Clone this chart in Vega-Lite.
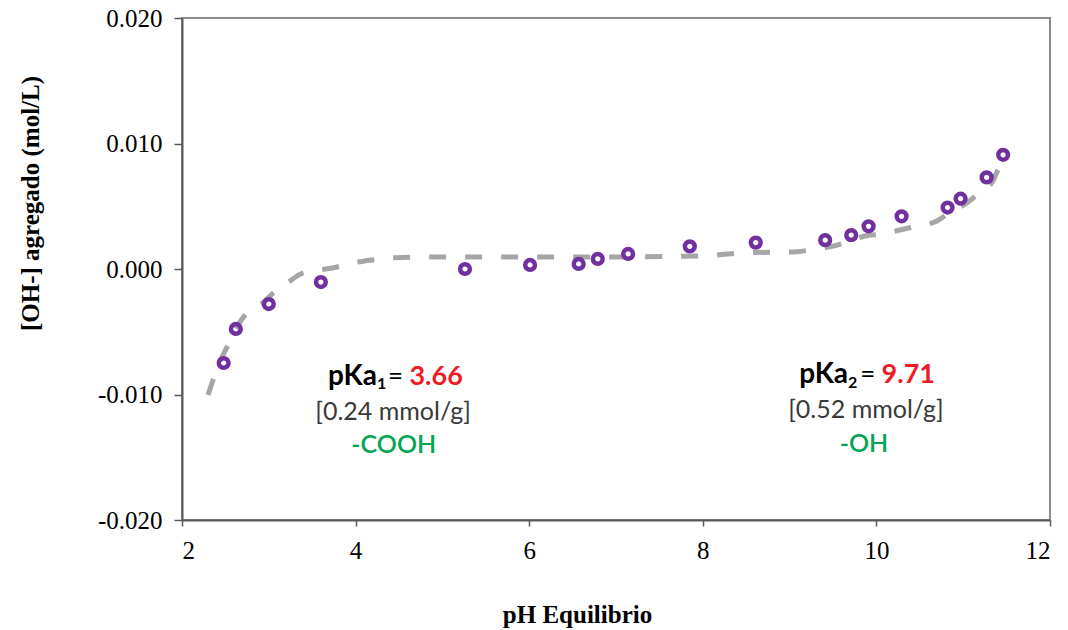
{
  "$schema": "https://vega.github.io/schema/vega-lite/v6.json",
  "width": 868,
  "height": 502,
  "autosize": {"type": "none"},
  "padding": {"left": 182, "top": 18, "right": 18, "bottom": 110},
  "background": "white",
  "config": {
    "view": {"stroke": "#8c8c8c", "strokeWidth": 2},
    "axis": {
      "labelFont": "Liberation Serif",
      "labelFontSize": 25,
      "labelColor": "#000000",
      "titleFont": "Liberation Serif",
      "titleFontSize": 25,
      "titleFontWeight": "bold",
      "titleColor": "#000000",
      "domainColor": "#595959",
      "domainWidth": 2,
      "tickColor": "#595959",
      "tickWidth": 1.5,
      "grid": false
    }
  },
  "datasets": {
    "curve": [
      {"pH": 2.300, "oh": -0.01004},
      {"pH": 2.357, "oh": -0.00885},
      {"pH": 2.461, "oh": -0.00701},
      {"pH": 2.518, "oh": -0.00622},
      {"pH": 2.645, "oh": -0.00446},
      {"pH": 2.726, "oh": -0.00367},
      {"pH": 2.956, "oh": -0.00255},
      {"pH": 3.037, "oh": -0.00199},
      {"pH": 3.210, "oh": -0.00112},
      {"pH": 3.394, "oh": -0.00032},
      {"pH": 3.590, "oh": -0.00008},
      {"pH": 3.786, "oh": 0.00016},
      {"pH": 3.970, "oh": 0.00048},
      {"pH": 4.189, "oh": 0.00072},
      {"pH": 4.396, "oh": 0.00088},
      {"pH": 4.823, "oh": 0.00096},
      {"pH": 5.660, "oh": 0.00096},
      {"pH": 6.820, "oh": 0.00096},
      {"pH": 7.970, "oh": 0.00104},
      {"pH": 8.463, "oh": 0.00128},
      {"pH": 8.889, "oh": 0.00135},
      {"pH": 9.085, "oh": 0.00138},
      {"pH": 9.293, "oh": 0.00159},
      {"pH": 9.488, "oh": 0.00180},
      {"pH": 9.696, "oh": 0.00223},
      {"pH": 9.869, "oh": 0.00263},
      {"pH": 10.076, "oh": 0.00279},
      {"pH": 10.272, "oh": 0.00311},
      {"pH": 10.479, "oh": 0.00343},
      {"pH": 10.698, "oh": 0.00383},
      {"pH": 10.848, "oh": 0.00454},
      {"pH": 11.044, "oh": 0.00526},
      {"pH": 11.194, "oh": 0.00614},
      {"pH": 11.343, "oh": 0.00701},
      {"pH": 11.389, "oh": 0.00773},
      {"pH": 11.505, "oh": 0.00869}
    ],
    "points": [
      {"pH": 2.48, "oh": -0.00749},
      {"pH": 2.62, "oh": -0.00478},
      {"pH": 3.00, "oh": -0.00279},
      {"pH": 3.60, "oh": -0.00104},
      {"pH": 5.26, "oh": 0.00000},
      {"pH": 6.01, "oh": 0.00032},
      {"pH": 6.57, "oh": 0.00040},
      {"pH": 6.79, "oh": 0.00080},
      {"pH": 7.14, "oh": 0.00120},
      {"pH": 7.85, "oh": 0.00180},
      {"pH": 8.61, "oh": 0.00210},
      {"pH": 9.41, "oh": 0.00230},
      {"pH": 9.71, "oh": 0.00270},
      {"pH": 9.91, "oh": 0.00340},
      {"pH": 10.29, "oh": 0.00420},
      {"pH": 10.82, "oh": 0.00490},
      {"pH": 10.97, "oh": 0.00560},
      {"pH": 11.27, "oh": 0.00730},
      {"pH": 11.46, "oh": 0.00910}
    ],
    "notes": [
      {"pH": 4.246, "oh": -0.00924, "text": "pKa", "kind": "pka"},
      {"pH": 4.246, "oh": -0.00959, "text": "1", "kind": "sub"},
      {"pH": 4.46, "oh": -0.00924, "text": "=", "kind": "eq"},
      {"pH": 4.62, "oh": -0.00924, "text": "3.66", "kind": "val"},
      {"pH": 4.431, "oh": -0.01203, "text": "[0.24 mmol/g]", "kind": "cap"},
      {"pH": 4.440, "oh": -0.01466, "text": "-COOH", "kind": "grp"},
      {"pH": 9.673, "oh": -0.00912, "text": "pKa", "kind": "pka"},
      {"pH": 9.673, "oh": -0.00949, "text": "2", "kind": "sub"},
      {"pH": 9.90, "oh": -0.00912, "text": "=", "kind": "eq"},
      {"pH": 10.06, "oh": -0.00912, "text": "9.71", "kind": "val"},
      {"pH": 9.880, "oh": -0.01188, "text": "[0.52 mmol/g]", "kind": "cap"},
      {"pH": 9.857, "oh": -0.01459, "text": "-OH", "kind": "grp"}
    ]
  },
  "encoding": {
    "x": {
      "field": "pH", "type": "quantitative",
      "scale": {"domain": [2, 12], "nice": false, "zero": false},
      "axis": {
        "values": [2, 4, 6, 8, 10, 12],
        "title": "pH Equilibrio",
        "tickSize": 6,
        "labelPadding": 12,
        "titleX": 395,
        "titleY": 102,
        "titleAlign": "center",
        "titleBaseline": "alphabetic"
      }
    },
    "y": {
      "field": "oh", "type": "quantitative",
      "scale": {"domain": [-0.02, 0.02], "nice": false, "zero": false},
      "axis": {
        "values": [-0.02, -0.01, 0, 0.01, 0.02],
        "labelExpr": "datum.value < 0 ? '-' + format(abs(datum.value), '.3f') : format(datum.value, '.3f')",
        "title": "[OH-] agregado (mol/L)",
        "tickSize": 8,
        "labelPadding": 12,
        "titleX": -152,
        "titleY": 185,
        "titleAngle": -90,
        "titleAlign": "center",
        "titleBaseline": "middle"
      }
    }
  },
  "layer": [
    {
      "data": {"name": "curve"},
      "mark": {"type": "line", "color": "#a6a6a6", "strokeWidth": 5, "strokeDash": [17, 19], "interpolate": "monotone"}
    },
    {
      "data": {"name": "points"},
      "mark": {"type": "point", "shape": "circle", "filled": false, "color": "#7030a0", "strokeWidth": 4.5, "size": 95, "opacity": 1}
    },
    {
      "data": {"name": "notes"},
      "transform": [{"filter": "datum.kind === 'pka'"}],
      "mark": {"type": "text", "font": "Lato", "fontSize": 28, "fontWeight": "bold", "color": "#000000", "align": "right", "baseline": "alphabetic"},
      "encoding": {"text": {"field": "text"}}
    },
    {
      "data": {"name": "notes"},
      "transform": [{"filter": "datum.kind === 'sub'"}],
      "mark": {"type": "text", "font": "Lato", "fontSize": 16, "fontWeight": "bold", "color": "#000000", "align": "left", "baseline": "alphabetic"},
      "encoding": {"text": {"field": "text"}}
    },
    {
      "data": {"name": "notes"},
      "transform": [{"filter": "datum.kind === 'eq'"}],
      "mark": {"type": "text", "font": "Lato", "fontSize": 26, "color": "#000000", "align": "center", "baseline": "alphabetic"},
      "encoding": {"text": {"field": "text"}}
    },
    {
      "data": {"name": "notes"},
      "transform": [{"filter": "datum.kind === 'val'"}],
      "mark": {"type": "text", "font": "Lato", "fontSize": 27, "fontWeight": "bold", "color": "#ee1c25", "align": "left", "baseline": "alphabetic"},
      "encoding": {"text": {"field": "text"}}
    },
    {
      "data": {"name": "notes"},
      "transform": [{"filter": "datum.kind === 'cap'"}],
      "mark": {"type": "text", "font": "Lato", "fontSize": 25, "color": "#3a3a3a", "align": "center", "baseline": "alphabetic"},
      "encoding": {"text": {"field": "text"}}
    },
    {
      "data": {"name": "notes"},
      "transform": [{"filter": "datum.kind === 'grp'"}],
      "mark": {"type": "text", "font": "Lato", "fontSize": 25, "fontWeight": 600, "color": "#00a651", "align": "center", "baseline": "alphabetic"},
      "encoding": {"text": {"field": "text"}}
    }
  ]
}
